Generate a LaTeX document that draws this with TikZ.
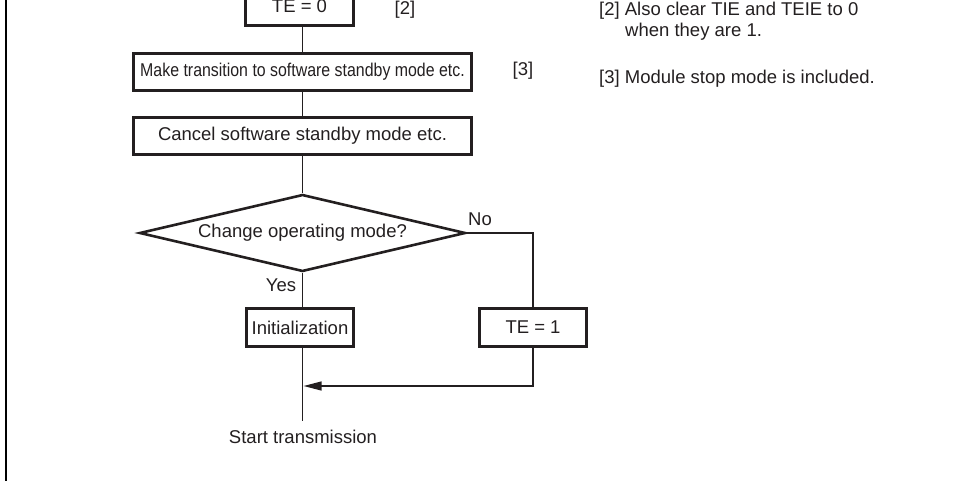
\documentclass[tikz,border=0pt]{standalone}
\usepackage{fontspec}
\setmainfont{Liberation Sans}
\usetikzlibrary{shapes.geometric,arrows.meta}
\definecolor{ink}{RGB}{35,31,32}
\tikzset{
  every node/.style={text=ink},
  procbox/.style={draw=ink, line width=2.6pt, rectangle, inner sep=0pt,
    font=\fontsize{18.5}{22}\selectfont},
  decbox/.style={draw=ink, line width=2.6pt, diamond, shape aspect=4.1, inner sep=0pt,
    minimum width=326pt, minimum height=77pt, font=\fontsize{18.5}{22}\selectfont},
  lbl/.style={inner sep=0pt, font=\fontsize{18.5}{22}\selectfont},
  conn/.style={draw=ink, line width=1.3pt},
}
\begin{document}
\begin{tikzpicture}[x=1pt,y=-1pt]
\useasboundingbox (0,0) rectangle (973,481);
\clip (0,0) rectangle (973,481);
% left border
\coordinate (bt) at (6,0);
\coordinate (bb) at (6,481);
\draw[draw=black, line width=2.2pt] (bt) -- (bb);

% boxes
\node[procbox, minimum width=108.5pt, minimum height=38.5pt] (te0) at (299.5,6.5) {TE = 0};
\node[procbox, minimum width=338.5pt, minimum height=37.5pt] (make) at (302.5,72)
  {\scalebox{0.86}[1]{Make transition to software standby mode etc.}};
\node[procbox, minimum width=338.5pt, minimum height=37.5pt] (cancel) at (302.5,136) {Cancel software standby mode etc.};
\node[decbox] (dec) at (302.5,233) {Change operating mode?};
\node[procbox, minimum width=107.5pt, minimum height=38.5pt] (init) at (300,327.5) {Initialization};
\node[procbox, minimum width=107.5pt, minimum height=38.5pt] (te1) at (533,327.5) {TE = 1};

% labels
\node[lbl] (l2) at (405,10) {[2]};
\node[lbl] (l3) at (523,71) {[3]};
\node[lbl] (no) at (480,219) {No};
\node[lbl] (yes) at (281,285) {Yes};
\node[lbl] (start) at (303,437) {Start transmission};
\node[lbl, anchor=west] (n2a) at (599,11) {[2] Also clear TIE and TEIE to 0};
\node[lbl, anchor=west] (n2b) at (625,32) {when they are 1.};
\node[lbl, anchor=west] (n3) at (599,79) {[3] Module stop mode is included.};

% connectors
\coordinate (endpt) at (302.5,421);
\coordinate (join) at (303.6,386);
\draw[conn] (te0.south -| make.north) -- (make.north);
\draw[conn] (make.south) -- (cancel.north);
\draw[conn] (cancel.south) -- (dec.north);
\draw[conn] (dec.south) -- (init.north -| dec.south);
\draw[conn] (dec.east) -| (te1.north);
\draw[conn] (init.south -| dec.south) -- (endpt);
\draw[conn, -{Triangle[length=18pt,width=9pt,fill=ink]}] (te1.south) |- (join);
\end{tikzpicture}
\end{document}
